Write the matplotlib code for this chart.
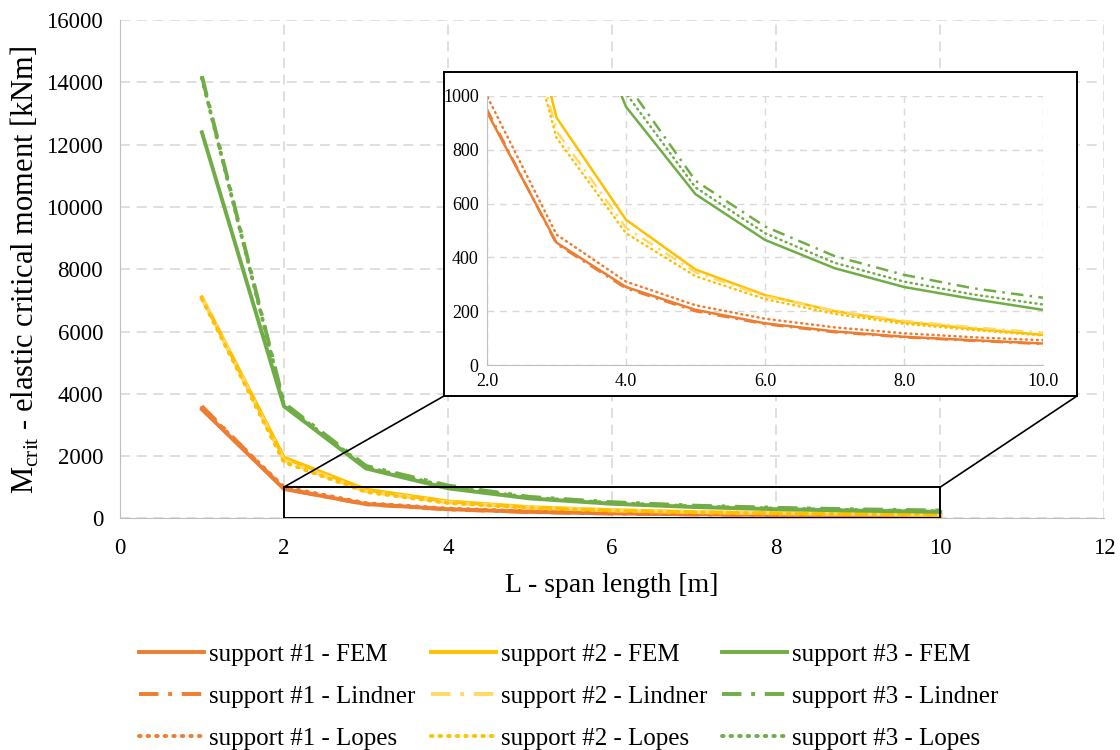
import matplotlib.pyplot as plt
from matplotlib.patches import Rectangle, ConnectionPatch

plt.rcParams['font.family'] = ['Liberation Serif', 'DejaVu Serif']
plt.rcParams['mathtext.fontset'] = 'custom'
plt.rcParams['mathtext.rm'] = 'Liberation Serif'

# span lengths [m]
span = [1, 2, 3, 4, 5, 6, 7, 8, 9, 10]

# support #1
s1_fem = [3500, 940, 455, 290, 205, 155, 125, 105, 92, 80]
s1_lindner = [3600, 950, 450, 285, 200, 152, 122, 103, 90, 78]
s1_lopes = [3550, 1000, 485, 310, 222, 172, 140, 118, 103, 92]

# support #2
s2_fem = [7100, 1950, 920, 540, 355, 260, 200, 160, 135, 112]
s2_lindner = [7100, 1860, 870, 510, 345, 255, 202, 164, 140, 120]
s2_lopes = [7050, 1800, 845, 490, 330, 245, 190, 153, 130, 110]

# support #3
s3_fem = [12400, 3600, 1600, 960, 635, 465, 360, 290, 245, 205]
s3_lindner = [14200, 3700, 1680, 1050, 685, 515, 405, 335, 285, 250]
s3_lopes = [14150, 3650, 1640, 1010, 660, 490, 380, 310, 262, 225]

c1, c2, c3 = '#ED7D31', '#FFC000', '#70AD47'
c2_light = '#FFD966'
dashdot = (0, (5, 2.5, 1, 2.5))
dotted = (0, (0.4, 1.8))

series = [
    (s1_fem, c1, '-', 'support #1 - FEM'),
    (s1_lindner, c1, dashdot, 'support #1 - Lindner'),
    (s1_lopes, c1, dotted, 'support #1 - Lopes'),
    (s2_fem, c2, '-', 'support #2 - FEM'),
    (s2_lindner, c2_light, dashdot, 'support #2 - Lindner'),
    (s2_lopes, c2, dotted, 'support #2 - Lopes'),
    (s3_fem, c3, '-', 'support #3 - FEM'),
    (s3_lindner, c3, dashdot, 'support #3 - Lindner'),
    (s3_lopes, c3, dotted, 'support #3 - Lopes'),
]

fig = plt.figure(figsize=(11.2, 7.5), dpi=100)
ax = fig.add_axes([0.107, 0.309, 0.879, 0.664])

handles = []
for y, col, ls, lab in series:
    h, = ax.plot(span, y, color=col, linestyle=ls, linewidth=2.8, label=lab,
                 dash_capstyle='round' if ls == dotted else 'butt')
    handles.append(h)

ax.set_xlim(0, 12)
ax.set_ylim(0, 16000)
ax.set_xticks(range(0, 13, 2))
ax.set_yticks(range(0, 16001, 2000))
ax.tick_params(labelsize=16.5, length=0)
ax.tick_params(axis='x', pad=14)
ax.tick_params(axis='y', pad=12)
ax.grid(True, color='#d9d9d9', linestyle=(0, (6, 4)), linewidth=1.2)
for s in ['top', 'right']:
    ax.spines[s].set_visible(False)
for s in ['left', 'bottom']:
    ax.spines[s].set_color('#bfbfbf')
ax.set_xlabel('L - span length [m]', fontsize=20, labelpad=10)
ax.set_ylabel(r'M$_{\mathregular{crit}}$ - elastic critical moment [kNm]', fontsize=22, labelpad=4)

# zoom rectangle
ax.add_patch(Rectangle((2, 0), 8, 1000, fill=False, edgecolor='black', linewidth=1.4, zorder=5))

# inset frame
frame_box = [444 / 1120, 1 - 396 / 750, 633 / 1120, 324 / 750]
fax = fig.add_axes(frame_box)
fax.set_xticks([])
fax.set_yticks([])
fax.set_facecolor('white')
for s in fax.spines.values():
    s.set_color('black')
    s.set_linewidth(1.4)

for xd, xf in [(2, frame_box[0]), (10, frame_box[0] + frame_box[2])]:
    con = ConnectionPatch(xyA=(xd, 1000), coordsA=ax.transData,
                          xyB=(xf, frame_box[1]), coordsB=fig.transFigure,
                          color='black', linewidth=1.2)
    fig.add_artist(con)

iax = fig.add_axes([487 / 1120, 1 - 365 / 750, 556 / 1120, 269 / 750])
for y, col, ls, lab in series:
    iax.plot(span, y, color=col, linestyle=ls, linewidth=1.8,
             dash_capstyle='round' if ls == dotted else 'butt')
iax.set_xlim(2, 10)
iax.set_ylim(0, 1000)
iax.set_xticks([2, 4, 6, 8, 10])
iax.set_xticklabels(['%.1f' % v for v in [2, 4, 6, 8, 10]])
iax.set_yticks(range(0, 1001, 200))
iax.tick_params(labelsize=13, length=0, pad=6)
iax.grid(True, color='#d9d9d9', linestyle=(0, (5, 4)), linewidth=1.0)
for s in ['top', 'right']:
    iax.spines[s].set_visible(False)
for s in ['left', 'bottom']:
    iax.spines[s].set_color('#bfbfbf')

fig.legend(handles=handles, loc='upper left', bbox_to_anchor=(0.1245, 0.142),
           ncol=3, frameon=False, fontsize=18, handlelength=2.6,
           handletextpad=0.2, columnspacing=0.6, labelspacing=0.78,
           borderaxespad=0, borderpad=0)

fig.savefig('out.png', dpi=100)
